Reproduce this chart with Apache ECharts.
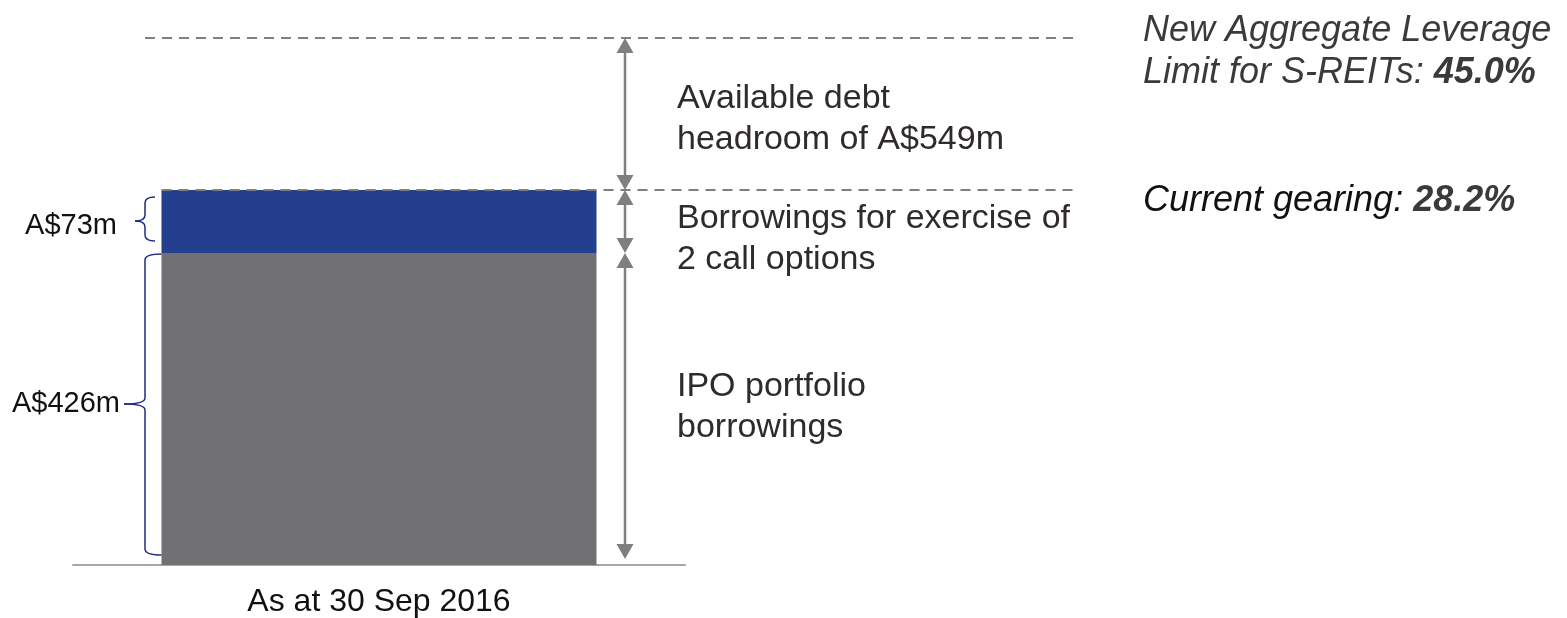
<!DOCTYPE html>
<html>
<head>
<meta charset="utf-8">
<script src="https://cdn.jsdelivr.net/npm/echarts@6/dist/echarts.min.js"></script>
<style>
html,body{margin:0;padding:0;background:#fff;}
#chart{width:1567px;height:618px;}
</style>
</head>
<body>
<div id="chart"></div>
<script>
// categories / series
var categories = ['As at 30 Sep 2016'];
var segmentNames = ['IPO portfolio\nborrowings', 'Borrowings for exercise of\n2 call options', 'Available debt\nheadroom of A$549m'];
var segmentAmounts = [426, 73, 549];   // A$m, as labelled
var segmentHeights = [312, 63, 152];   // drawn heights (the picture is schematic, not to scale)
var leverageLimit = '45.0%';
var currentGearing = '28.2%';

var greyCol = '#717073', blueCol = '#233f8e', lineCol = '#7f7f7f', braceCol = '#1f2a85';
var total = segmentHeights[0] + segmentHeights[1] + segmentHeights[2];

var dom = document.getElementById('chart');
var myChart = echarts.init(dom);
var option = {
    animation: false,
    grid: { left: 73, top: 38, width: 612, bottom: 53 },
    xAxis: {
        type: 'category',
        data: categories,
        axisTick: { show: false },
        axisLine: { lineStyle: { color: '#a6a6a6', width: 2 } },
        axisLabel: { color: '#111', fontSize: 32, margin: 21, fontFamily: 'Liberation Sans, Arial' }
    },
    yAxis: {
        type: 'value', min: 0, max: total, show: false,
        splitLine: { show: false }
    },
    series: [
        { name: segmentNames[0], type: 'bar', stack: 'a', barWidth: 435, data: [segmentHeights[0]], itemStyle: { color: greyCol } },
        { name: segmentNames[1], type: 'bar', stack: 'a', barWidth: 435, data: [segmentHeights[1]], itemStyle: { color: blueCol } }
    ]
};
myChart.setOption(option, true);

function yPx(v) { return myChart.convertToPixel({ yAxisIndex: 0 }, v); }
function xPx(v) { return myChart.convertToPixel({ xAxisIndex: 0 }, v); }

var yBase = yPx(0), yGrey = yPx(segmentHeights[0]), yBlue = yPx(segmentHeights[0] + segmentHeights[1]), yTop = yPx(total);
var barLeft = xPx(0) - 217.5;
var arrowX = 625, lineEnd = 1078;

// curly brace built from lines and quadratic curves
function brace(xEnd, xMid, tipX, y1, yTip, y2, r) {
    var st = { stroke: braceCol, lineWidth: 1.5, fill: null };
    function c(x1, y1_, cx, cy, x2, y2_) {
        return { type: 'bezierCurve', z: 10, shape: { x1: x1, y1: y1_, cpx1: cx, cpy1: cy, x2: x2, y2: y2_ }, style: st };
    }
    function l(x1, y1_, x2, y2_) {
        return { type: 'line', z: 10, shape: { x1: x1, y1: y1_, x2: x2, y2: y2_ }, style: st };
    }
    return [
        c(xEnd, y1, xMid, y1, xMid, y1 + r),
        l(xMid, y1 + r, xMid, yTip - r),
        c(xMid, yTip - r, xMid, yTip, tipX, yTip),
        c(tipX, yTip, xMid, yTip, xMid, yTip + r),
        l(xMid, yTip + r, xMid, y2 - r),
        c(xMid, y2 - r, xMid, y2, xEnd, y2)
    ];
}

function arrow(y1, y2) {
    var w = 8.5, h = 15;
    return [
        { type: 'line', z: 10, shape: { x1: arrowX, y1: y1 + h, x2: arrowX, y2: y2 - h }, style: { stroke: lineCol, lineWidth: 2.5 } },
        { type: 'polygon', z: 10, shape: { points: [[arrowX, y1], [arrowX - w, y1 + h], [arrowX + w, y1 + h]] }, style: { fill: lineCol } },
        { type: 'polygon', z: 10, shape: { points: [[arrowX, y2], [arrowX - w, y2 - h], [arrowX + w, y2 - h]] }, style: { fill: lineCol } }
    ];
}

var txtFont = 'Liberation Sans, Arial, sans-serif';
function segText(txt, yc) {
    return { type: 'text', z: 10, x: 677, y: yc, style: { text: txt, fill: '#2f2b2b', fontSize: 34, lineHeight: 41, fontFamily: txtFont, verticalAlign: 'middle', align: 'left' } };
}

var g = [
    { type: 'line', z: 10, shape: { x1: 145, y1: yTop, x2: lineEnd, y2: yTop }, style: { stroke: lineCol, lineWidth: 2, lineDash: [10, 7] } },
    { type: 'line', z: 10, shape: { x1: barLeft, y1: yBlue, x2: lineEnd, y2: yBlue }, style: { stroke: lineCol, lineWidth: 2, lineDash: [10, 7] } },
    segText(segmentNames[2], (yTop + yBlue) / 2 + 5),
    segText(segmentNames[1], (yBlue + yGrey) / 2 + 18),
    segText(segmentNames[0], (yGrey + yBase) / 2 - 2),
    { type: 'text', z: 10, x: 117, y: yBlue + 36, style: { text: 'A$' + segmentAmounts[1] + 'm', fill: '#111', fontSize: 29, fontFamily: txtFont, align: 'right', verticalAlign: 'middle' } },
    { type: 'text', z: 10, x: 120, y: (yGrey + yBase) / 2 - 5, style: { text: 'A$' + segmentAmounts[0] + 'm', fill: '#111', fontSize: 29, fontFamily: txtFont, align: 'right', verticalAlign: 'middle' } },
    {
        type: 'text', z: 10, x: 1143, y: yTop + 14,
        style: {
            text: '{i|New Aggregate Leverage}\n{i|Limit for S-REITs: }{b|' + leverageLimit + '}',
            verticalAlign: 'middle', align: 'left',
            rich: {
                i: { fontSize: 36, fontStyle: 'italic', fill: '#3a3a3a', fontFamily: txtFont, lineHeight: 42 },
                b: { fontSize: 36, fontStyle: 'italic', fontWeight: 'bold', fill: '#3a3a3a', fontFamily: txtFont, lineHeight: 42 }
            }
        }
    },
    {
        type: 'text', z: 10, x: 1143, y: yBlue + 11,
        style: {
            text: '{i|Current gearing: }{b|' + currentGearing + '}',
            verticalAlign: 'middle', align: 'left',
            rich: {
                i: { fontSize: 36, fontStyle: 'italic', fill: '#111', fontFamily: txtFont },
                b: { fontSize: 36, fontStyle: 'italic', fontWeight: 'bold', fill: '#3a3a3a', fontFamily: txtFont }
            }
        }
    }
];
g = g.concat(
    brace(155, 145, 135, yBlue + 7, yBlue + 31, yGrey - 12, 6),
    brace(barLeft, 145, 124, yGrey + 1, (yGrey + yBase) / 2 - 5, yBase - 10, 6),
    arrow(yTop, yBlue), arrow(yBlue, yGrey), arrow(yGrey, yBase - 6)
);

myChart.setOption({ graphic: { elements: g } });
</script>
</body>
</html>
